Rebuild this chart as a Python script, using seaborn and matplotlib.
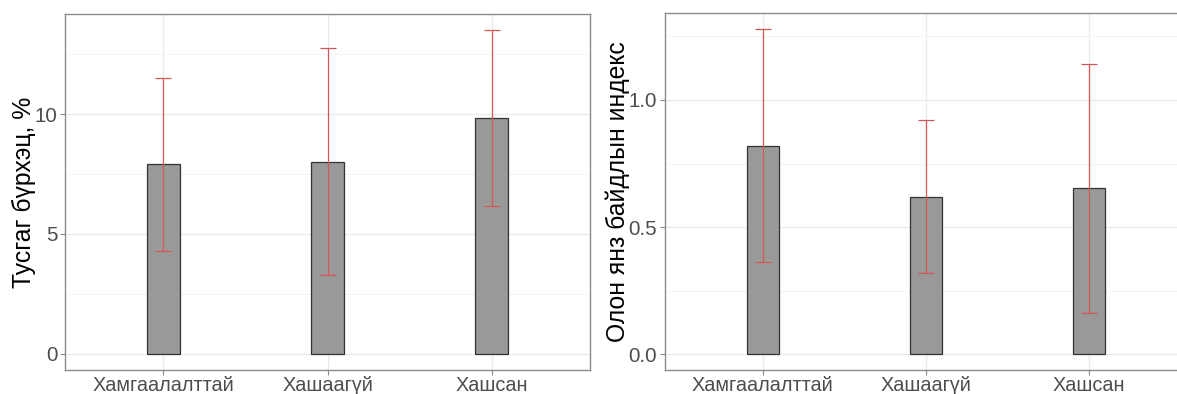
import numpy as np
import pandas as pd
import matplotlib
matplotlib.use("Agg")
import matplotlib.pyplot as plt
import seaborn as sns
from matplotlib.ticker import MultipleLocator

categories = ["Хамгаалалттай", "Хашаагүй", "Хашсан"]

cover_mean = [7.9, 8.02, 9.85]
cover_low = [4.30, 3.28, 6.18]
cover_high = [11.52, 12.74, 13.50]

div_mean = [0.82, 0.619, 0.652]
div_low = [0.362, 0.319, 0.161]
div_high = [1.28, 0.921, 1.14]

sns.set_theme(style="white")
plt.rcParams["font.family"] = ["Liberation Sans", "DejaVu Sans"]

W, H = 1177, 394
fig = plt.figure(figsize=(W / 100, H / 100), dpi=100)

def px_axes(left, top, right, bottom):
    return fig.add_axes([left / W, 1 - bottom / H, (right - left) / W, (bottom - top) / H])

ax1 = px_axes(65, 14, 590, 370)
ax2 = px_axes(665, 13, 665 + 3.2 * 163, 370)

def panel(ax, mean, low, high, ylabel, ylim, major, fmt):
    df = pd.DataFrame({"cat": categories, "val": mean})
    sns.barplot(data=df, x="cat", y="val", ax=ax, color="#999999", width=0.2,
                edgecolor="#333333", linewidth=0.9, saturation=1, errorbar=None,
                zorder=3)
    m = np.array(mean)
    yerr = np.vstack([m - np.array(low), np.array(high) - m])
    ax.errorbar(np.arange(len(categories)), m, yerr=yerr, fmt="none",
                ecolor="#D45656", elinewidth=0.9, capsize=5.9, capthick=0.9,
                zorder=4)
    ax.set_xlim(-0.6, 2.6)
    ax.set_ylim(*ylim)
    ax.yaxis.set_major_locator(MultipleLocator(major))
    ax.yaxis.set_minor_locator(MultipleLocator(major / 2))
    ax.yaxis.set_major_formatter(matplotlib.ticker.FormatStrFormatter(fmt))
    ax.grid(True, which="major", color="#EBEBEB", linewidth=1.0, zorder=0)
    ax.grid(True, which="minor", axis="y", color="#F3F3F3", linewidth=0.8, zorder=0)
    ax.set_axisbelow(True)
    for s in ax.spines.values():
        s.set_visible(True)
        s.set_color("#8A8A8A")
        s.set_linewidth(1.0)
    ax.tick_params(axis="both", which="major", direction="out", length=3.5,
                   width=0.8, color="#8A8A8A", labelcolor="#4D4D4D",
                   labelsize=14.8, pad=2, left=True, bottom=True)
    ax.tick_params(axis="x", which="major", labelsize=14.3, pad=0.5)
    ax.tick_params(axis="y", which="minor", length=0)
    ax.set_xlabel("")
    ax.set_ylabel(ylabel, fontsize=17.8, color="black", labelpad=-1)

panel(ax1, cover_mean, cover_low, cover_high, "Тусгаг бүрхэц, %",
      (-0.67, 14.17), 5, "%d")
panel(ax2, div_mean, div_low, div_high, "Олон янз байдлын индекс",
      (-0.062, 1.342), 0.5, "%.1f")

fig.savefig("out.png", dpi=100, facecolor="white")
